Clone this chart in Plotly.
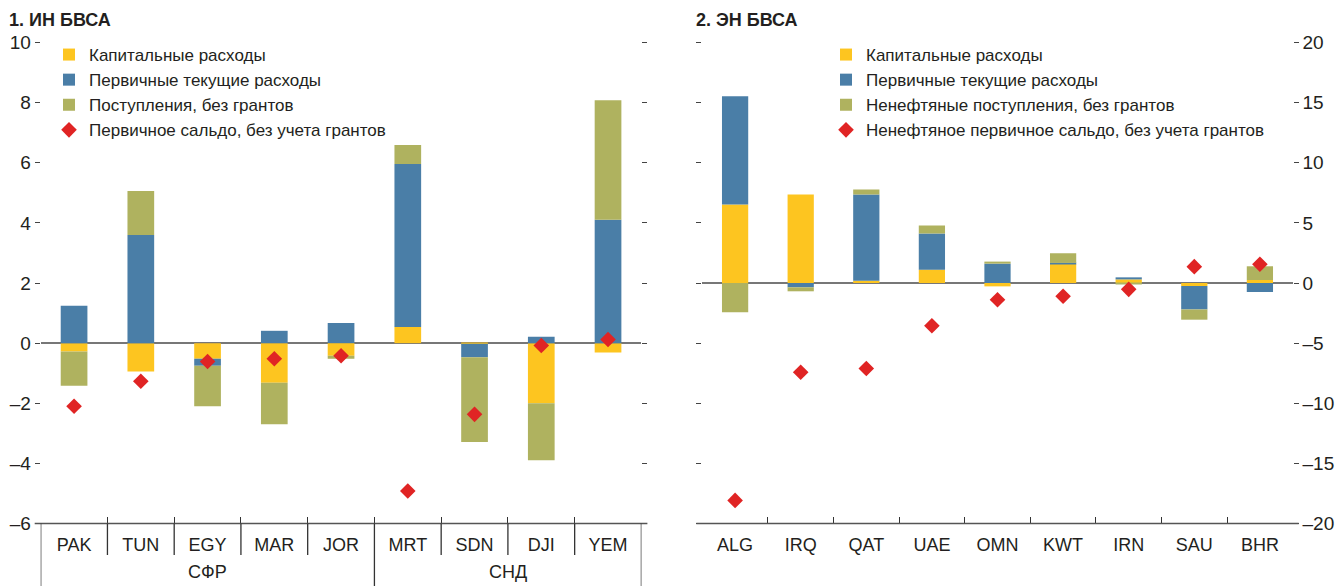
import plotly.graph_objects as go

# ---------------------------
# DATA
# ---------------------------
left_countries = ["PAK", "TUN", "EGY", "MAR", "JOR", "MRT", "SDN", "DJI", "YEM"]
left_groups = ["СФР", "СФР", "СФР", "СФР", "СФР", "СНД", "СНД", "СНД", "СНД"]
left_capital = [-0.28, -0.94, -0.52, -1.32, -0.42, 0.54, -0.02, -2.0, -0.31]
left_current = [1.24, 3.6, -0.23, 0.41, 0.67, 5.42, -0.45, 0.21, 4.1]
left_revenue = [-1.14, 1.46, -1.35, -1.38, -0.10, 0.63, -2.82, -1.9, 3.98]
left_balance = [-2.1, -1.27, -0.61, -0.52, -0.42, -4.92, -2.37, -0.08, 0.12]

right_countries = ["ALG", "IRQ", "QAT", "UAE", "OMN", "KWT", "IRN", "SAU", "BHR"]
right_capital = [6.53, 7.36, 0.19, 1.11, -0.28, 1.6, 0.3, -0.25, 0.25]
right_current = [9.0, -0.36, 7.17, 3.0, 1.61, 0.07, 0.17, -1.95, -0.75]
right_revenue = [-2.44, -0.33, 0.42, 0.67, 0.17, 0.8, -0.1, -0.85, 1.14]
right_balance = [-18.08, -7.42, -7.11, -3.56, -1.39, -1.1, -0.53, 1.36, 1.56]

left_names = ["Капитальные расходы", "Первичные текущие расходы",
              "Поступления, без грантов", "Первичное сальдо, без учета грантов"]
right_names = ["Капитальные расходы", "Первичные текущие расходы",
               "Ненефтяные поступления, без грантов",
               "Ненефтяное первичное сальдо, без учета грантов"]

left_yticks = [-6, -4, -2, 0, 2, 4, 6, 8, 10]
right_yticks = [-20, -15, -10, -5, 0, 5, 10, 15, 20]

# ---------------------------
# STYLE
# ---------------------------
W, H = 1335, 586
FONT = "Liberation Sans, Arial, sans-serif"
TXT = "#231f20"
YELLOW = "rgb(253,197,32)"
BLUE = "rgb(74,126,167)"
GREEN = "rgb(175,178,95)"
RED = "rgb(224,36,36)"
AXIS = "#555555"

# plot area in pixels
LX0, LX1 = 40.7, 641.4
RX0, RX1 = 702.3, 1292.7
Y_BOT, Y_TOP = 523.5, 42.5
ydom = [(H - Y_BOT) / H, (H - Y_TOP) / H]


def dash(v):
    return str(v).replace("-", "–")


fig = go.Figure()

panels = [
    ("x", "y", "legend", left_countries, left_names,
     [left_capital, left_current, left_revenue], left_balance),
    ("x2", "y2", "legend2", right_countries, right_names,
     [right_capital, right_current, right_revenue], right_balance),
]
for xa, ya, lg, cats, names, stacks, bal in panels:
    for vals, col, nm in zip(stacks, [YELLOW, BLUE, GREEN], names[:3]):
        fig.add_trace(go.Bar(x=cats, y=vals, name=nm, marker_color=col,
                             marker_line_width=0, width=0.4,
                             xaxis=xa, yaxis=ya, legend=lg))
    fig.add_trace(go.Scatter(x=cats, y=bal, name=names[3], mode="markers",
                             marker=dict(symbol="diamond", size=12, color=RED),
                             xaxis=xa, yaxis=ya, legend=lg))

xcommon = dict(type="category", tickson="boundaries", ticks="inside", ticklen=7,
               tickwidth=1.3, tickcolor="#333", showline=False,
               showgrid=False, tickfont=dict(size=18, color=TXT),
               ticklabelstandoff=8, automargin=False, fixedrange=True)
ycommon = dict(ticks="outside", ticklen=5, tickwidth=1.3, tickcolor="#444",
               mirror="ticks", showline=False, showgrid=False, zeroline=True,
               zerolinecolor="#777", zerolinewidth=1.5, layer="above traces",
               tickfont=dict(size=19, color=TXT), domain=ydom,
               automargin=False, fixedrange=True)

fig.update_layout(
    width=W, height=H,
    margin=dict(l=0, r=0, t=0, b=0, autoexpand=False),
    paper_bgcolor="white", plot_bgcolor="white",
    barmode="relative",
    font=dict(family=FONT, color=TXT),
    xaxis=dict(domain=[LX0 / W, LX1 / W], anchor="y",
               range=[-0.5, len(left_countries) - 0.5], **xcommon),
    xaxis2=dict(domain=[RX0 / W, RX1 / W], anchor="y2",
                range=[-0.5, len(right_countries) - 0.5], **xcommon),
    yaxis=dict(anchor="x", range=[-6, 10], tickvals=left_yticks,
               ticktext=[dash(v) for v in left_yticks], side="left", **ycommon),
    yaxis2=dict(anchor="x2", range=[-20, 20], tickvals=right_yticks,
                ticktext=[dash(v) for v in right_yticks], side="right", **ycommon),
    legend=dict(x=49 / W, y=(H - 37) / H, xanchor="left", yanchor="top",
                traceorder="normal", bgcolor="rgba(0,0,0,0)",
                font=dict(size=17, color=TXT)),
    legend2=dict(x=826 / W, y=(H - 37) / H, xanchor="left", yanchor="top",
                 traceorder="normal", bgcolor="rgba(0,0,0,0)",
                 font=dict(size=17, color=TXT)),
    showlegend=True,
)

# titles
for txt, px in [("1. ИН БВСА", 7), ("2. ЭН БВСА", 694)]:
    fig.add_annotation(text="<b>" + txt + "</b>", xref="paper", yref="paper",
                       x=px / W, y=(H - 20) / H, xanchor="left", yanchor="middle",
                       showarrow=False, font=dict(size=18, color=TXT))

# bottom axis lines, a little wider than the plot area (as in the original)
axis_y = (H - Y_BOT) / H
for x0, x1 in [(LX0, LX1), (RX0, RX1)]:
    fig.add_shape(type="line", xref="paper", yref="paper",
                  x0=(x0 - 6) / W, x1=(x1 + 6) / W, y0=axis_y, y1=axis_y,
                  line=dict(color=AXIS, width=1.5))

# boundary lines below the left axis + group labels
short_y = (H - 555) / H
n = len(left_countries)
starts = [i for i in range(n) if i == 0 or left_groups[i] != left_groups[i - 1]]
for i in range(n + 1):
    is_group = i in starts or i == n
    fig.add_shape(type="line", xref="x", yref="paper", x0=i - 0.5, x1=i - 0.5,
                  y0=axis_y, y1=0 if is_group else short_y,
                  line=dict(color="#333", width=1.3))
for k, s in enumerate(starts):
    e = starts[k + 1] if k + 1 < len(starts) else n
    fig.add_annotation(text=left_groups[s], xref="x", yref="paper",
                       x=(s + e - 1) / 2, y=2 / H, yanchor="bottom",
                       showarrow=False, font=dict(size=18, color=TXT))

# the page body has a default margin; remove it so the figure fills the window
fig.write_html("out.html", config={"displayModeBar": False},
               post_script="document.body.style.margin='0';"
                           "document.body.style.overflow='hidden';")
